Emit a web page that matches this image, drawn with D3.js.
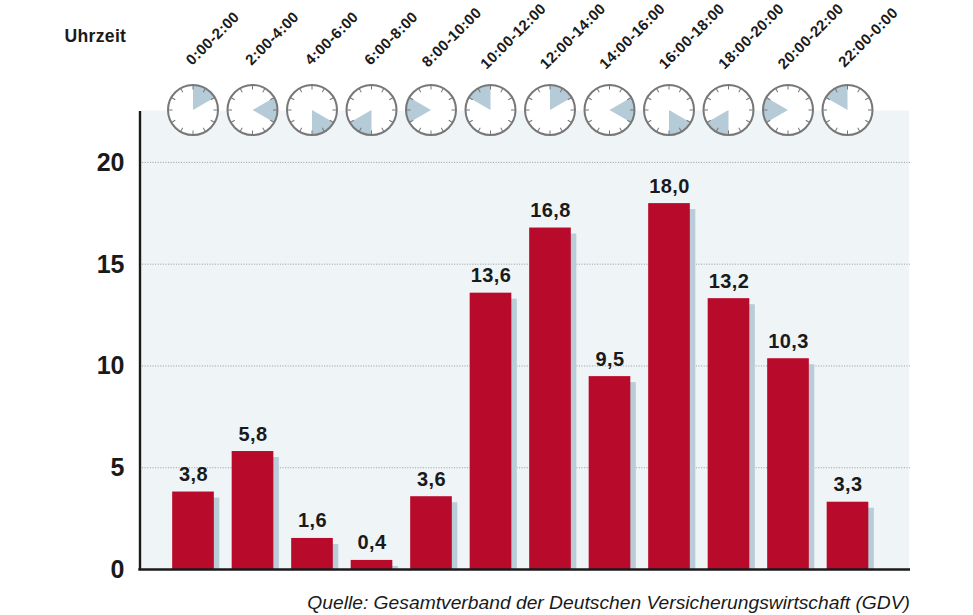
<!DOCTYPE html>
<html>
<head>
<meta charset="utf-8">
<script src="https://d3js.org/d3.v7.min.js"></script>
<style>
html, body { margin: 0; padding: 0; background: #fff; }
svg { display: block; }
text { font-family: "Liberation Sans", sans-serif; fill: #1a1a1a; }
</style>
</head>
<body>
<script>
var categories = ["0:00-2:00","2:00-4:00","4:00-6:00","6:00-8:00","8:00-10:00","10:00-12:00",
	"12:00-14:00","14:00-16:00","16:00-18:00","18:00-20:00","20:00-22:00","22:00-0:00"];
// bar heights as drawn, the printed labels differ slightly on a few bars
var values = [3.83,5.82,1.55,0.47,3.6,13.6,16.8,9.5,18.0,13.33,10.38,3.33];
var valueLabels = ["3,8","5,8","1,6","0,4","3,6","13,6","16,8","9,5","18,0","13,2","10,3","3,3"];
var startHours = [0,2,4,6,8,10,0,2,4,6,8,10];
var yTicks = [0,5,10,15,20];
var clockMarks = [0,1,2,3,4,5,6,7,8,9,10,11];

var width = 973,
	height = 615,
	left = 139.5,
	right = 909,
	top_ = 110.5,
	bottom = 569.5;

var svg = d3.select("body").append("svg")
	.attr("width", width)
	.attr("height", height);

var x = d3.scaleBand()
	.domain(categories)
	.range([163.25, 877.25])
	.paddingInner(0.3)
	.paddingOuter(0.15);

var y = d3.scaleLinear()
	.domain([0, 22.55])
	.range([bottom, top_]);

// panel
svg.append("rect")
	.attr("x", left)
	.attr("y", top_)
	.attr("width", right - left)
	.attr("height", bottom - top_)
	.attr("fill", "#eff4f7");

// grid
svg.selectAll(".grid")
	.data(yTicks.filter(function(d){ return d > 0 }))
	.enter()
	.append("line")
	.attr("class", "grid")
	.attr("x1", left)
	.attr("x2", right + 1)
	.attr("y1", function(d){ return y(d) })
	.attr("y2", function(d){ return y(d) })
	.attr("stroke", "#8a8f92")
	.attr("stroke-width", 0.9)
	.attr("stroke-dasharray", "1 1.6");

// shadow behind each bar
svg.selectAll(".shadow")
	.data(values)
	.enter()
	.append("rect")
	.attr("class", "shadow")
	.attr("x", function(d,i){ return x(categories[i]) + 5.5 })
	.attr("y", function(d){ return Math.min(y(d) + 6, bottom) })
	.attr("width", x.bandwidth())
	.attr("height", function(d){ return Math.max(bottom - y(d) - 6, 0) })
	.attr("fill", "#b8cdd8");

svg.selectAll(".bar")
	.data(values)
	.enter()
	.append("rect")
	.attr("class", "bar")
	.attr("x", function(d,i){ return x(categories[i]) })
	.attr("y", function(d){ return y(d) })
	.attr("width", x.bandwidth())
	.attr("height", function(d){ return bottom - y(d) })
	.attr("fill", "#b80a2a");

svg.selectAll(".val")
	.data(values)
	.enter()
	.append("text")
	.attr("class", "val")
	.attr("x", function(d,i){ return x(categories[i]) + x.bandwidth() / 2 + 0.5 })
	.attr("y", function(d){ return y(d) - 10.5 })
	.attr("text-anchor", "middle")
	.attr("font-size", 20)
	.attr("font-weight", "bold")
	.attr("letter-spacing", 0.4)
	.text(function(d,i){ return valueLabels[i] });

// y axis
var yAxis = d3.axisLeft(y).tickValues(yTicks).tickSize(0).tickPadding(15);
var gy = svg.append("g")
	.attr("transform", "translate(" + left + ",0)")
	.call(yAxis);
gy.select(".domain").attr("stroke", "#1a1a1a").attr("stroke-width", 2.4);
gy.selectAll("text")
	.attr("font-family", "Liberation Sans")
	.attr("font-size", 25)
	.attr("font-weight", "bold")
	.attr("fill", "#1a1a1a");

// baseline
svg.append("line")
	.attr("x1", left - 1.2)
	.attr("x2", right + 1)
	.attr("y1", bottom)
	.attr("y2", bottom)
	.attr("stroke", "#1a1a1a")
	.attr("stroke-width", 2.4);

// clocks
var r = 25;
var arc = d3.arc().innerRadius(0).outerRadius(r);
var clocks = svg.selectAll(".clock")
	.data(categories)
	.enter()
	.append("g")
	.attr("class", "clock")
	.attr("transform", function(d){ return "translate(" + (x(d) + x.bandwidth() / 2) + "," + 110 + ")" });

clocks.append("circle")
	.attr("r", r)
	.attr("fill", "#fff");

clocks.append("path")
	.attr("fill", "#b5cbd7")
	.attr("d", function(d,i){
		return arc({
			startAngle: startHours[i] / 12 * 2 * Math.PI,
			endAngle: (startHours[i] + 2) / 12 * 2 * Math.PI
		});
	});

clocks.selectAll(".mark")
	.data(clockMarks)
	.enter()
	.append("line")
	.attr("class", "mark")
	.attr("y1", -r)
	.attr("y2", -r + 4.5)
	.attr("stroke", "#777")
	.attr("stroke-width", 1)
	.attr("transform", function(d){ return "rotate(" + d * 30 + ")" });

clocks.append("circle")
	.attr("r", r)
	.attr("fill", "none")
	.attr("stroke", "#777")
	.attr("stroke-width", 2);

// time labels, longer ones start further down and left
var labelDx = {9: -1, 10: -3, 11: -4},
	labelY = {9: 66, 10: 68, 11: 70};

svg.selectAll(".time")
	.data(categories)
	.enter()
	.append("text")
	.attr("class", "time")
	.attr("transform", function(d){
		return "translate(" + (x(d) + x.bandwidth() / 2 + labelDx[d.length]) + "," + labelY[d.length] + ") rotate(-45)";
	})
	.attr("font-size", 15)
	.attr("font-weight", "bold")
	.attr("letter-spacing", 0.35)
	.text(function(d){ return d });

svg.append("text")
	.attr("x", 64.5)
	.attr("y", 41.7)
	.attr("font-size", 17.6)
	.attr("font-weight", "bold")
	.attr("letter-spacing", 0.3)
	.text("Uhrzeit");

svg.append("text")
	.attr("x", 910)
	.attr("y", 609)
	.attr("text-anchor", "end")
	.attr("font-size", 19.25)
	.attr("font-style", "italic")
	.attr("fill", "#333")
	.text("Quelle: Gesamtverband der Deutschen Versicherungswirtschaft (GDV)");
</script>
</body>
</html>
